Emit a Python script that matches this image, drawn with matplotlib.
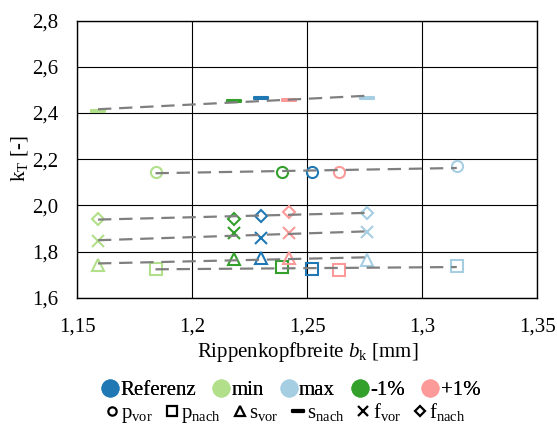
import numpy as np
import matplotlib
matplotlib.use("Agg")
import matplotlib.pyplot as plt
from matplotlib.lines import Line2D
from matplotlib.path import Path
from matplotlib.ticker import FuncFormatter, MultipleLocator

plt.rcParams["font.family"] = ["Liberation Serif", "DejaVu Serif"]
plt.rcParams["mathtext.fontset"] = "custom"
plt.rcParams["mathtext.rm"] = "Liberation Serif"
plt.rcParams["mathtext.it"] = "Liberation Serif:italic"

# variants: Referenz, min, max, -1%, +1%
variants = ["Referenz", "min", "max", "-1%", "+1%"]
colors = ["#1f78b4", "#b2df8a", "#a6cee3", "#33a02c", "#fb9a99"]

# rib head width for the p-series and for the s/f-series
x_p = [1.252, 1.184, 1.315, 1.239, 1.264]
x_sf = [1.230, 1.159, 1.276, 1.218, 1.242]

k_p_vor = [2.146, 2.146, 2.170, 2.146, 2.146]
k_p_nach = [1.725, 1.724, 1.737, 1.734, 1.720]
k_s_vor = [1.770, 1.742, 1.765, 1.767, 1.773]
k_s_nach = [2.464, 2.409, 2.465, 2.451, 2.458]
k_f_vor = [1.860, 1.847, 1.886, 1.879, 1.881]
k_f_nach = [1.955, 1.941, 1.965, 1.941, 1.972]

bar = Path([(-1, -0.18), (1, -0.18), (1, 0.18), (-1, 0.18), (-1, -0.18)],
           [Path.MOVETO, Path.LINETO, Path.LINETO, Path.LINETO, Path.CLOSEPOLY])

# label, x, k, marker, size in plot, size in legend
series = [
    ("p$_{\\mathrm{vor}}$", x_p, k_p_vor, "o", 8, 6),
    ("p$_{\\mathrm{nach}}$", x_p, k_p_nach, "s", 8, 6.5),
    ("s$_{\\mathrm{vor}}$", x_sf, k_s_vor, "^", 8, 7),
    ("s$_{\\mathrm{nach}}$", x_sf, k_s_nach, bar, 9.5, 9),
    ("f$_{\\mathrm{vor}}$", x_sf, k_f_vor, "x", 9, 7.5),
    ("f$_{\\mathrm{nach}}$", x_sf, k_f_nach, "D", 6, 5),
]

fig = plt.figure(figsize=(5.57, 4.26), dpi=100)
ax = fig.add_axes([0.1388, 0.3012, 0.8258, 0.6502])

for label, xs, ks, mk, ms, _ in series:
    for x, k, c in zip(xs, ks, colors):
        ax.plot(x, k, linestyle="none", marker=mk, markersize=ms,
                markerfacecolor="none", markeredgecolor=c,
                markeredgewidth=1.5, zorder=3)
    # linear trend line over the variants
    a, b = np.polyfit(xs, ks, 1)
    xl = np.array([min(xs), max(xs)])
    ax.plot(xl, a * xl + b, color="#7f7f7f", lw=1.6,
            dashes=(6, 3.5), zorder=4)

ax.set_xlim(1.15, 1.35)
ax.set_ylim(1.6, 2.8)
ax.xaxis.set_major_locator(MultipleLocator(0.05))
ax.yaxis.set_major_locator(MultipleLocator(0.2))
ax.xaxis.set_major_formatter(FuncFormatter(lambda v, p: f"{v:.2f}".rstrip("0").replace(".", ",")))
ax.yaxis.set_major_formatter(FuncFormatter(lambda v, p: f"{v:.1f}".replace(".", ",")))
ax.tick_params(length=0, labelsize=15)
ax.tick_params(axis="x", pad=14)
ax.tick_params(axis="y", pad=13.5)
ax.grid(True, color="black", lw=0.8)
ax.set_axisbelow(True)
for s in ax.spines.values():
    s.set_color("black")
    s.set_linewidth(1.0)

ax.set_xlabel("Rippenkopfbreite $b_\\mathrm{k}$ [mm]", fontsize=15, labelpad=3)
ax.set_ylabel("k$_\\mathrm{T}$ [-]", fontsize=15, labelpad=2)

h1 = [Line2D([], [], linestyle="none", marker="o", markersize=12,
             markerfacecolor=c, markeredgecolor=c) for c in colors]
leg1 = fig.legend(h1, variants, loc="center", bbox_to_anchor=(0.522, 0.083),
                  ncol=5, frameon=False, fontsize=15, handlelength=0.8,
                  handletextpad=0.1, columnspacing=0.8, borderpad=0)

h2 = []
for label, xs, ks, mk, ms, lms in series:
    fc = "black" if mk is bar else "none"
    h2.append(Line2D([], [], linestyle="none", marker=mk, markersize=lms,
                     markerfacecolor=fc, markeredgecolor="black",
                     markeredgewidth=1.6))
leg2 = fig.legend(h2, [s[0] for s in series], loc="center",
                  bbox_to_anchor=(0.513, 0.030), ncol=6, frameon=False,
                  fontsize=15, handlelength=0.6, handletextpad=0.15,
                  columnspacing=0.6, borderpad=0)
fig.add_artist(leg1)

fig.savefig("out.png", dpi=100)
